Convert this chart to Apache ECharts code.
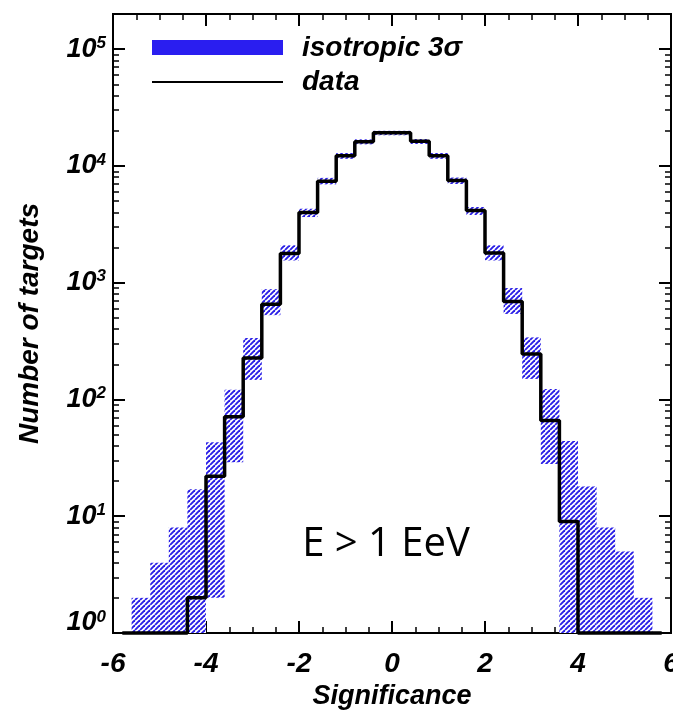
<!DOCTYPE html>
<html>
<head>
<meta charset="utf-8">
<script src="https://cdn.jsdelivr.net/npm/echarts@6/dist/echarts.min.js"></script>
<style>
html,body{margin:0;padding:0;background:#fff;}
#chart{width:673px;height:721px;}
</style>
</head>
<body>
<div id="chart"></div>
<script>
// Bin centers of the significance histogram (bin width 0.4)
const binCenters = [-5.8,-5.4,-5.0,-4.6,-4.2,-3.8,-3.4,-3.0,-2.6,-2.2,-1.8,-1.4,-1.0,-0.6,-0.2,
                     0.2, 0.6, 1.0, 1.4, 1.8, 2.2, 2.6, 3.0, 3.4, 3.8, 4.2, 4.6, 5.0, 5.4, 5.8];
// Observed number of targets per bin
const dataCounts = [0,0,0,0,2,22,71,226,654,1780,4000,7400,12200,16100,19200,
                    19200,16300,12200,7500,4150,1800,690,245,66,9,0,0,0,0,0];
// Isotropic expectation 3-sigma band (lower / upper)
const bandLow  = [null,0,0,0,0,2,29,147,527,1550,3650,6950,11500,15300,18300,
                  18300,15400,11500,7000,3800,1550,540,150,28,0,0,0,0,0,null];
const bandHigh = [null,2,4,8,17,43,121,336,880,2090,4300,7900,12900,16900,20000,
                  20000,17000,12900,7950,4450,2090,900,340,123,44,18,8,5,2,null];
// Axis ticks
const xTickValues = [-6,-4,-2,0,2,4,6];
const yMajorTicks = [1,10,100,1000,10000,100000];
const yMin = 1, yMax = 200000;

const yMinorTicks = [];
yMajorTicks.forEach(function(d){ for (let k = 2; k <= 9; k++) { if (d*k < yMax) yMinorTicks.push(d*k); } });

const FONT = 'Liberation Sans';
const halfW = (binCenters[1] - binCenters[0]) / 2;

// hatch pattern
const pat = document.createElement('canvas');
pat.width = 5; pat.height = 5;
(function(){
  const c = pat.getContext('2d');
  c.fillStyle = '#ffffff'; c.fillRect(0,0,5,5);
  c.strokeStyle = '#2a1fe6'; c.lineWidth = 1.9;
  for (let o = -5; o <= 5; o += 5) {
    c.beginPath(); c.moveTo(o, 5); c.lineTo(o + 5, 0); c.stroke();
  }
})();

const bandData = [];
binCenters.forEach(function(c, i){
  if (bandHigh[i] == null) return;
  bandData.push([c, Math.max(bandLow[i], yMin), bandHigh[i]]);
});
const lineData = binCenters.map(function(c, i){ return [c, Math.max(dataCounts[i], yMin)]; });

function yLabel(v){
  const e = Math.round(Math.log10(v));
  if (e === 0) return '{b0|10}{s0|' + e + '}';
  return '{b|10}{s|' + e + '}';
}

const baseY = {
  type: 'log', min: yMin, max: yMax, logBase: 10,
  splitLine: {show: false},
  axisLine: {show: true, onZero: false, lineStyle: {color: '#000', width: 2}},
  axisLabel: {show: false},
  minorTick: {show: false}
};

const chart = echarts.init(document.getElementById('chart'), null, {renderer: 'canvas'});
chart.setOption({
  animation: false,
  backgroundColor: '#fff',
  grid: {left: 113, right: 2, top: 14, bottom: 88, containLabel: false, outerBoundsMode: 'none'},
  xAxis: [{
    type: 'value', min: -6, max: 6, interval: 2, position: 'bottom',
    name: 'Significance', nameLocation: 'middle', nameGap: 50,
    nameTextStyle: {fontFamily: FONT, fontWeight: 'bold', fontStyle: 'italic', fontSize: 27, color: '#000'},
    axisLine: {show: true, onZero: false, lineStyle: {color: '#000', width: 2}},
    axisTick: {show: true, inside: true, length: 12, lineStyle: {color: '#000', width: 2}, customValues: xTickValues},
    minorTick: {show: true, splitNumber: 4, length: 6, lineStyle: {color: '#000', width: 1.5}},
    axisLabel: {show: true, margin: 17, fontFamily: FONT, fontWeight: 'bold', fontStyle: 'italic', fontSize: 28, color: '#000', customValues: xTickValues, hideOverlap: false},
    splitLine: {show: false}
  },{
    type: 'value', min: -6, max: 6, interval: 2, position: 'top',
    axisLine: {show: true, onZero: false, lineStyle: {color: '#000', width: 2}},
    axisTick: {show: true, inside: true, length: 12, lineStyle: {color: '#000', width: 2}},
    minorTick: {show: true, splitNumber: 4, length: 6, lineStyle: {color: '#000', width: 1.5}},
    axisLabel: {show: false},
    splitLine: {show: false}
  }],
  yAxis: [
    Object.assign({}, baseY, {
      position: 'left',
      name: 'Number of targets', nameLocation: 'middle', nameGap: 69,
      nameTextStyle: {fontFamily: FONT, fontWeight: 'bold', fontStyle: 'italic', fontSize: 28, color: '#000'},
      axisTick: {show: true, inside: true, length: 12, lineStyle: {color: '#000', width: 2}, customValues: yMajorTicks},
      axisLabel: {show: true, margin: 7, customValues: yMajorTicks, formatter: yLabel,
        rich: {
          b: {fontFamily: FONT, fontWeight: 'bold', fontStyle: 'italic', fontSize: 27, color: '#000'},
          s: {fontFamily: FONT, fontWeight: 'bold', fontStyle: 'italic', fontSize: 17, color: '#000', padding: [0,0,12,0]},
          b0: {fontFamily: FONT, fontWeight: 'bold', fontStyle: 'italic', fontSize: 27, color: '#000', padding: [0,0,20,0]},
          s0: {fontFamily: FONT, fontWeight: 'bold', fontStyle: 'italic', fontSize: 17, color: '#000', padding: [0,0,32,0]}
        }}
    }),
    Object.assign({}, baseY, {
      position: 'left',
      axisTick: {show: true, inside: true, length: 6, lineStyle: {color: '#000', width: 1.5}, customValues: yMinorTicks}
    }),
    Object.assign({}, baseY, {
      position: 'right',
      axisTick: {show: true, inside: true, length: 12, lineStyle: {color: '#000', width: 2}, customValues: yMajorTicks}
    }),
    Object.assign({}, baseY, {
      position: 'right',
      axisTick: {show: true, inside: true, length: 6, lineStyle: {color: '#000', width: 1.5}, customValues: yMinorTicks}
    })
  ],
  series: [{
    name: 'isotropic 3σ',
    type: 'custom',
    xAxisIndex: 0, yAxisIndex: 0,
    clip: true,
    data: bandData,
    renderItem: function(params, api){
      const x = api.value(0), lo = api.value(1), hi = api.value(2);
      const p1 = api.coord([x - halfW, hi]);
      const p2 = api.coord([x + halfW, lo]);
      return {
        type: 'rect',
        shape: {x: p1[0], y: p1[1], width: p2[0] - p1[0], height: p2[1] - p1[1]},
        style: {fill: {image: pat, repeat: 'repeat'}, stroke: null}
      };
    },
    z: 2
  },{
    name: 'data',
    type: 'line',
    xAxisIndex: 0, yAxisIndex: 0,
    step: 'middle',
    data: lineData,
    showSymbol: false,
    symbol: 'none',
    clip: false,
    lineStyle: {color: '#000', width: 3.5},
    z: 3
  }],
  graphic: [
    {type: 'rect', shape: {x: 152, y: 40, width: 131, height: 15}, style: {fill: '#2a1ef0'}, z: 10},
    {type: 'line', shape: {x1: 152, y1: 82, x2: 283, y2: 82}, style: {stroke: '#000', lineWidth: 2}, z: 10},
    {type: 'text', x: 302, y: 48, style: {text: 'isotropic 3σ', fontFamily: FONT, fontWeight: 'bold', fontStyle: 'italic', fontSize: 28, fill: '#000', verticalAlign: 'middle', align: 'left'}, z: 10},
    {type: 'text', x: 302, y: 82, style: {text: 'data', fontFamily: FONT, fontWeight: 'bold', fontStyle: 'italic', fontSize: 28, fill: '#000', verticalAlign: 'middle', align: 'left'}, z: 10},
    {type: 'text', x: 386, y: 545, style: {text: 'E > 1 EeV', fontFamily: 'Open Sans', fontSize: 40, fill: '#000', verticalAlign: 'middle', align: 'center'}, z: 10}
  ]
});
</script>
</body>
</html>
